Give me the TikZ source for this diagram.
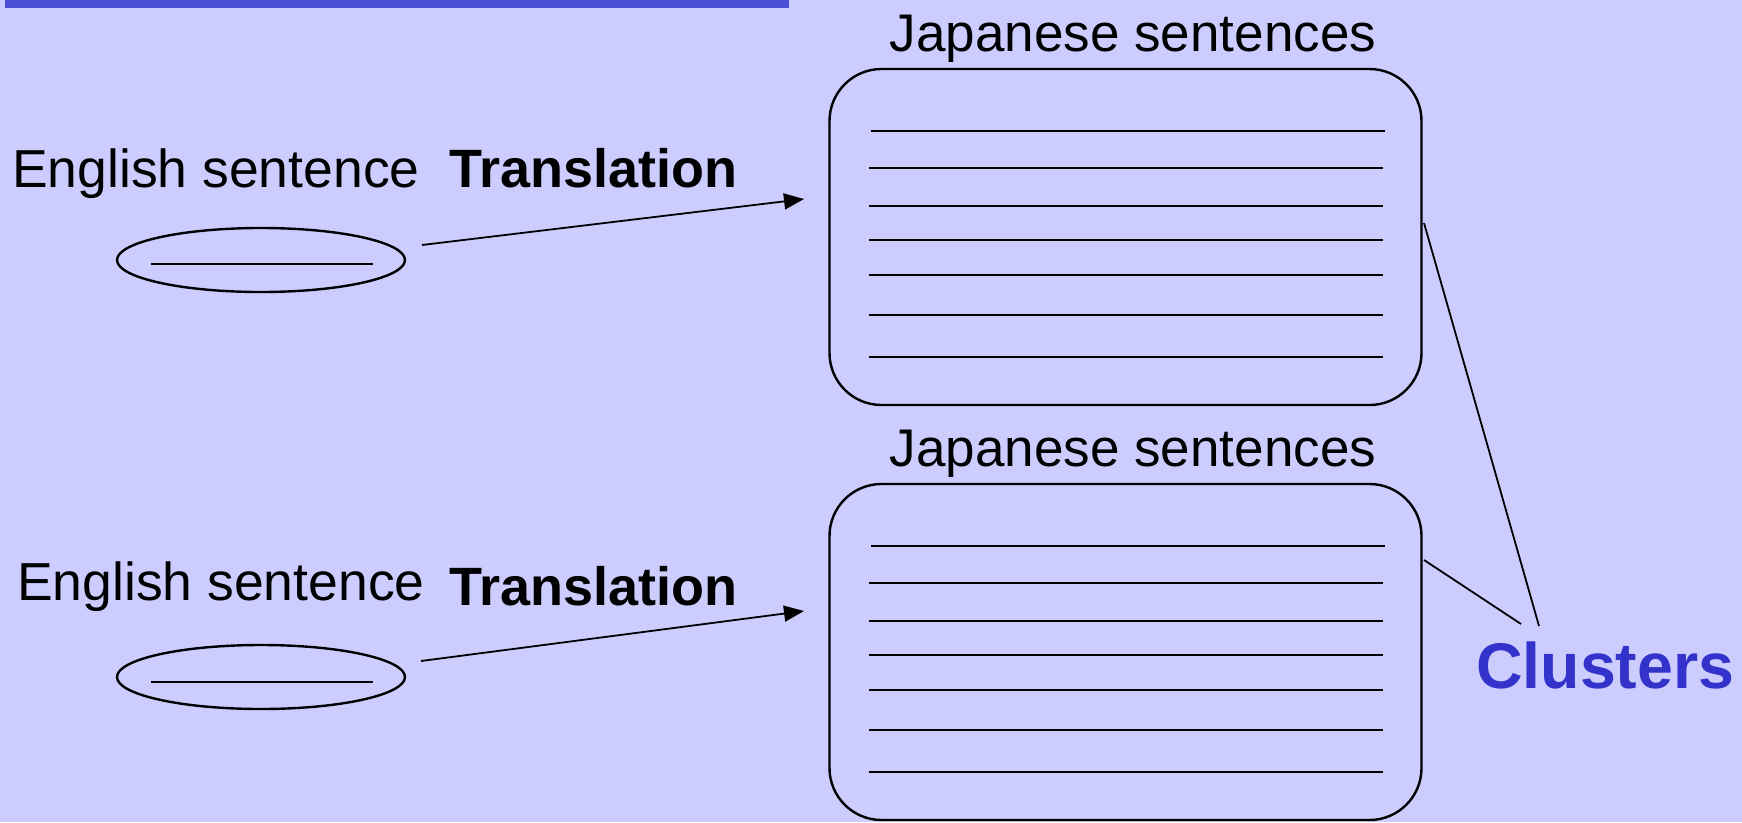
\documentclass[tikz,border=0pt]{standalone}
\usepackage{fontspec}
\setmainfont{Liberation Sans}
\usetikzlibrary{arrows.meta,shapes.geometric}

\definecolor{slidebg}{RGB}{204,204,255}
\definecolor{titlebar}{RGB}{75,79,211}
\definecolor{clusterblue}{RGB}{51,51,204}

\tikzset{
  label text/.style={anchor=base west, inner sep=0pt, font=\fontsize{53.5}{60}\selectfont},
  bold label/.style={label text, font=\fontsize{54}{60}\selectfont\bfseries},
  group title/.style={anchor=base, inner sep=0pt, font=\fontsize{53}{60}\selectfont},
  sentence set/.style={draw=black, line width=2.4pt, rounded corners=52pt,
    minimum width=592pt, minimum height=336pt, inner sep=0pt},
  source/.style={draw=black, line width=2.4pt, ellipse, minimum width=288pt,
    minimum height=64pt, inner sep=0pt},
  rule/.style={line width=2pt},
  underline/.style={line width=2.7pt},
  translate/.style={line width=1.8pt, -{Triangle[length=20pt,width=16pt]}},
  link/.style={line width=1.8pt}
}

\begin{document}
\begin{tikzpicture}[x=1pt,y=-1pt]
  % page background and title strip
  \useasboundingbox (0,0) rectangle (1742,822);
  \fill[slidebg] (0,0) rectangle (1742,822);
  \fill[titlebar] (5,0) rectangle (789,8);

  % ---- first row ----
  \node[label text] (en1) at (12,187) {English sentence};
  \node[bold label] (tr1) at (449,187) {Translation};
  \node[source] (src1) at (261,260) {};
  \draw[underline] (151,264) -- (373,264);
  \node[group title] (jt1) at (1133,51) {Japanese sentences};
  \node[sentence set] (set1) at (1125.5,237) {};
  \foreach \dy/\xa in {61.5/871,99/868.5,136.5/868.5,171/868.5,205.5/868.5,245.5/868.5,288/868.5}{
    \draw[rule] (\xa,69+\dy) -- (\xa+514,69+\dy);
  }
  \coordinate (a1s) at (422,245);
  \coordinate (a1e) at (804,199);
  \draw[translate] (a1s) -- (a1e);

  % ---- second row ----
  \node[label text] (en2) at (17,600) {English sentence};
  \node[bold label] (tr2) at (449,605) {Translation};
  \node[source] (src2) at (261,677) {};
  \draw[underline] (151,682) -- (373,682);
  \node[group title] (jt2) at (1133,466) {Japanese sentences};
  \node[sentence set] (set2) at (1125.5,652) {};
  \foreach \dy/\xa in {61.5/871,99/868.5,136.5/868.5,171/868.5,205.5/868.5,245.5/868.5,288/868.5}{
    \draw[rule] (\xa,484+\dy) -- (\xa+514,484+\dy);
  }
  \coordinate (a2s) at (421,661);
  \coordinate (a2e) at (804,611);
  \draw[translate] (a2s) -- (a2e);

  % ---- clusters label and its two leaders ----
  \node[anchor=base west, inner sep=0pt, text=clusterblue,
        font=\fontsize{64.5}{70}\selectfont\bfseries] (cl) at (1476,688) {Clusters};
  \coordinate (c1s) at (1424,223);
  \coordinate (c1e) at (1539,626);
  \coordinate (c2s) at (1424,560);
  \coordinate (c2e) at (1521,624);
  \draw[link] (c1s) -- (c1e);
  \draw[link] (c2s) -- (c2e);
\end{tikzpicture}
\end{document}
